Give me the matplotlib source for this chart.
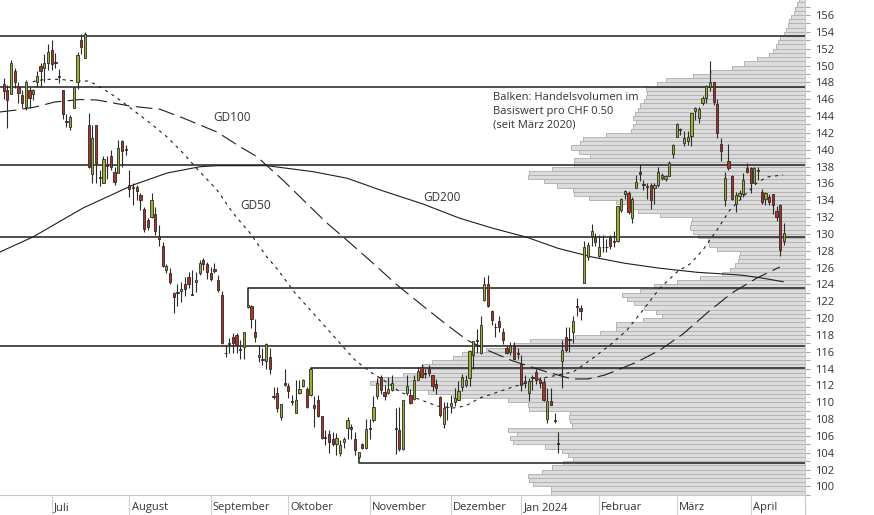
import numpy as np
import matplotlib.pyplot as plt
from matplotlib.lines import Line2D

plt.rcParams['font.family'] = ['Open Sans', 'DejaVu Sans']
plt.rcParams['lines.scale_dashes'] = False

# --- daily candles (trading-day index 0 = mid June 2023) ---
open_ = [147.8, 147.1, 146.6, 149.4, 147.4, 146.5, 145.1, 147.1, 146.6, 148.0,
         149.9, 149.7, 150.3, 151.9, 150.4, 148.7, 147.1, 143.4, 142.7, 145.0,
         148.0, 153.0, 150.9, 142.9, 137.1, 142.9, 136.7, 136.1, 138.2, 139.3,
         137.3, 137.2, 141.0, 140.1, 135.8, 135.6, 135.6, 134.6, 133.0, 131.7,
         132.0, 132.4, 129.7, 128.6, 125.7, 125.3, 123.0, 123.1, 123.2, 124.1,
         124.9, 122.9, 124.3, 125.3, 126.9, 126.4, 125.3, 125.8, 124.5, 122.8,
         115.9, 117.0, 117.8, 118.0, 116.3, 116.6, 121.3, 121.4, 118.4, 115.4,
         115.1, 114.9, 115.4, 110.7, 111.1, 108.3, 112.3, 111.9, 110.1, 108.7,
         111.1, 111.9, 111.6, 110.9, 109.7, 110.3, 108.4, 105.9, 106.2, 105.6,
         105.0, 104.0, 105.3, 107.0, 107.1, 105.6, 103.5, 105.1, 104.6, 107.0,
         107.9, 110.7, 113.0, 111.2, 111.1, 111.5, 106.9, 106.7, 104.5, 111.1,
         110.9, 110.4, 112.7, 114.2, 113.5, 113.9, 113.2, 112.2, 110.6, 107.4,
         109.5, 109.6, 110.0, 110.3, 111.8, 112.1, 112.9, 115.6, 117.4, 115.8,
         122.1, 124.0, 120.9, 119.0, 119.7, 118.4, 116.5, 116.0, 116.7, 115.8,
         114.6, 112.5, 111.1, 113.0, 113.6, 112.6, 112.4, 108.0, 110.1, 107.9,
         105.2, 114.9, 117.8, 117.5, 118.4, 121.4, 121.2, 124.2, 127.3, 129.7,
         129.6, 127.4, 128.5, 128.5, 129.6, 129.1, 129.2, 132.8, 134.7, 134.8,
         131.9, 135.5, 137.4, 135.9, 135.7, 135.8, 135.4, 135.8, 136.6, 136.5,
         136.9, 139.5, 141.5, 142.3, 140.8, 141.0, 141.6, 144.6, 143.8, 145.6,
         146.2, 147.4, 148.0, 145.4, 140.7, 134.0, 138.7, 136.9, 133.6, 134.5,
         134.7, 137.8, 137.8, 136.1, 137.6, 135.0, 134.2, 134.4, 134.7, 132.7,
         133.4, 129.2]
high = [148.5, 147.7, 150.7, 149.7, 148.1, 147.1, 148.3, 147.4, 147.2, 149.3,
        150.3, 151.4, 152.6, 153.0, 151.5, 149.6, 147.1, 144.2, 144.1, 147.4,
        151.6, 153.8, 154.0, 144.4, 142.9, 142.9, 137.6, 139.2, 139.2, 140.0,
        138.0, 141.2, 141.2, 140.5, 137.6, 136.0, 135.8, 134.8, 133.2, 131.9,
        134.8, 133.2, 131.0, 129.0, 126.4, 125.9, 123.1, 124.1, 124.3, 124.9,
        125.5, 125.7, 125.5, 126.9, 127.1, 126.7, 126.1, 126.5, 125.1, 123.2,
        116.8, 117.6, 118.2, 118.2, 117.4, 118.3, 121.6, 121.6, 119.9, 116.8,
        116.4, 117.0, 116.4, 111.8, 111.8, 109.8, 114.0, 112.3, 110.9, 112.6,
        112.6, 112.8, 111.8, 114.0, 110.7, 110.9, 108.4, 106.7, 106.7, 106.5,
        106.3, 105.5, 105.9, 108.3, 107.4, 106.5, 104.1, 105.2, 108.0, 108.0,
        110.7, 112.9, 113.3, 112.1, 113.0, 113.2, 109.3, 109.4, 110.3, 113.2,
        111.6, 113.3, 114.2, 114.6, 114.0, 114.4, 113.2, 112.8, 110.7, 110.0,
        110.0, 110.9, 111.7, 112.5, 113.4, 113.2, 116.2, 117.3, 118.7, 120.2,
        124.9, 125.1, 121.0, 119.4, 120.2, 118.8, 116.8, 117.2, 117.2, 116.5,
        115.6, 113.2, 112.9, 113.3, 114.0, 113.0, 112.9, 111.7, 111.7, 108.7,
        106.5, 117.4, 118.9, 118.9, 120.2, 122.4, 121.5, 129.2, 129.0, 131.2,
        130.1, 129.9, 129.9, 129.4, 129.9, 130.4, 133.3, 134.3, 135.2, 135.1,
        134.4, 137.0, 138.3, 136.4, 136.0, 136.0, 136.0, 138.0, 137.2, 137.0,
        138.6, 140.7, 143.2, 142.6, 142.2, 142.2, 144.4, 145.1, 145.1, 146.4,
        147.7, 150.5, 148.1, 146.0, 141.4, 137.3, 140.7, 137.0, 135.0, 135.2,
        137.2, 138.4, 138.0, 138.0, 138.0, 135.3, 135.0, 134.7, 134.7, 133.3,
        133.5, 131.3]
low = [146.0, 142.6, 146.6, 147.3, 145.5, 144.9, 144.7, 144.9, 145.9, 147.4,
       147.4, 148.0, 149.5, 149.5, 149.7, 147.9, 143.7, 142.7, 142.3, 144.9,
       147.2, 151.4, 150.9, 137.8, 136.0, 136.1, 135.7, 136.0, 136.5, 137.6,
       135.8, 137.2, 138.0, 139.4, 134.4, 133.4, 134.0, 132.8, 130.2, 130.5,
       131.9, 129.9, 128.6, 126.1, 125.3, 124.1, 120.6, 121.4, 121.9, 122.6,
       123.6, 122.7, 123.1, 125.1, 125.7, 124.7, 124.4, 125.3, 123.1, 116.9,
       115.4, 115.9, 115.9, 115.9, 115.2, 115.2, 121.2, 118.8, 117.2, 114.8,
       114.4, 114.0, 113.4, 110.4, 108.9, 107.9, 111.9, 110.5, 109.7, 108.7,
       111.0, 111.8, 109.3, 110.8, 107.1, 108.2, 105.6, 104.9, 104.0, 104.8,
       103.7, 103.6, 104.6, 105.7, 105.7, 103.7, 103.4, 104.4, 104.5, 105.7,
       107.7, 110.4, 111.0, 110.3, 111.0, 111.3, 103.9, 104.2, 104.3, 110.9,
       109.8, 110.3, 112.6, 112.9, 112.9, 113.1, 111.3, 111.0, 108.3, 106.9,
       107.9, 108.7, 109.6, 110.3, 111.4, 111.8, 111.9, 114.0, 115.8, 115.7,
       122.0, 121.3, 119.2, 117.8, 118.4, 116.9, 115.7, 115.6, 115.1, 115.1,
       111.3, 111.7, 110.1, 111.5, 112.2, 111.7, 110.2, 107.5, 109.7, 107.5,
       104.0, 111.7, 116.0, 116.0, 117.0, 120.2, 119.8, 124.2, 126.9, 128.6,
       128.6, 127.3, 127.9, 127.9, 128.2, 128.5, 129.0, 132.6, 134.2, 132.4,
       131.3, 135.4, 136.3, 135.2, 134.1, 133.0, 133.6, 135.6, 136.4, 136.3,
       136.9, 139.0, 141.5, 141.7, 140.4, 140.6, 140.4, 143.5, 143.2, 145.3,
       145.5, 147.0, 145.3, 141.4, 138.7, 133.3, 137.6, 134.0, 132.6, 134.1,
       134.4, 137.2, 134.9, 136.0, 136.4, 133.6, 133.4, 133.4, 132.4, 131.5,
       127.4, 128.7]
close = [147.0, 145.9, 150.3, 148.0, 146.7, 145.6, 148.0, 146.1, 147.1, 148.8,
         149.4, 150.3, 151.6, 150.2, 150.3, 148.6, 144.2, 143.3, 143.9, 147.4,
         151.2, 152.2, 153.8, 138.0, 141.4, 138.4, 136.6, 138.9, 138.1, 138.0,
         136.2, 140.2, 139.9, 140.0, 135.3, 135.5, 135.1, 134.0, 130.6, 130.8,
         134.0, 130.3, 129.4, 126.2, 126.2, 124.3, 122.5, 123.0, 123.4, 123.4,
         124.1, 122.8, 124.5, 126.5, 126.4, 125.5, 124.6, 125.6, 123.3, 117.0,
         115.8, 116.9, 117.0, 116.8, 116.2, 118.3, 121.5, 119.9, 117.7, 115.6,
         115.0, 116.9, 114.0, 110.6, 109.3, 109.8, 112.0, 111.3, 110.0, 110.3,
         111.6, 112.6, 109.4, 113.9, 109.3, 108.4, 105.8, 105.8, 105.3, 105.0,
         105.8, 104.9, 105.6, 107.9, 106.8, 104.3, 104.1, 104.6, 106.8, 106.8,
         109.4, 112.3, 111.5, 110.7, 111.6, 112.3, 106.8, 104.5, 110.3, 111.9,
         109.9, 112.6, 113.7, 113.0, 113.4, 113.5, 111.9, 111.7, 108.5, 109.3,
         109.4, 109.9, 110.5, 111.3, 113.0, 112.7, 116.1, 117.3, 117.3, 119.2,
         124.1, 121.4, 119.8, 118.9, 119.0, 117.4, 115.9, 116.7, 115.2, 115.7,
         112.0, 112.3, 112.5, 112.9, 112.6, 112.3, 110.3, 110.1, 109.7, 107.8,
         105.1, 116.2, 116.2, 117.4, 119.6, 121.3, 120.9, 128.4, 128.7, 130.4,
         129.0, 128.5, 128.4, 128.4, 128.6, 129.0, 133.3, 134.1, 135.1, 132.6,
         134.1, 136.2, 137.1, 135.8, 135.6, 134.0, 135.8, 137.4, 137.0, 136.9,
         138.4, 140.6, 143.0, 142.3, 141.4, 141.5, 144.3, 144.9, 144.8, 146.1,
         147.6, 148.1, 145.7, 142.0, 139.8, 136.6, 137.8, 134.2, 134.6, 134.8,
         136.4, 137.4, 136.1, 137.8, 137.5, 133.8, 134.9, 133.8, 133.4, 132.0,
         128.1, 130.1]

# --- moving averages (index, price) ---
gd50_x = [7.9, 11.2, 15.2, 19.3, 22.8, 24.7, 27.4, 30.7, 35.0, 39.6, 44.2, 48.5,
          53.1, 57.7, 62.0, 66.6, 71.2, 74.2, 78.8, 86.1, 95.0, 99.6, 103.9, 107.2,
          110.7, 117.2, 121.5, 124.8, 128.8, 137.7, 145.9, 154.0, 159.4, 164.0,
          168.6, 172.9, 177.5, 182.1, 185.6, 189.1, 192.9, 196.4, 199.9, 203.7,
          206.4, 210.8]
gd50_y = [148.08, 148.36, 148.36, 148.16, 148.16, 147.80, 147.09, 146.14, 144.72,
          143.17, 141.51, 139.61, 137.35, 135.22, 132.48, 130.11, 127.26, 125.71,
          122.98, 119.42, 115.02, 113.48, 112.30, 111.22, 110.63, 109.56, 109.32,
          109.56, 110.51, 111.82, 112.89, 113.60, 115.26, 116.81, 118.59, 120.96,
          123.58, 125.48, 126.43, 128.09, 130.47, 132.84, 134.38, 136.05, 136.76,
          137.00]
gd100_x = [-1, 3.6, 8.5, 13.9, 20.7, 25.3, 29.6, 34.2, 42.3, 48.5, 57.7, 63.9,
           68.5, 75.5, 81.0, 87.4, 93.7, 98.3, 106.4, 113.4, 119.9, 125.3, 130.7,
           137.7, 146.9, 153.7, 158.0, 162.6, 166.7, 171.3, 177.5, 183.7, 190.5,
           196.9, 203.7, 209.9]
gd100_y = [144.48, 144.72, 145.07, 145.67, 145.96, 145.90, 145.55, 145.19, 144.80,
           143.77, 142.10, 140.36, 139.17, 136.40, 134.03, 131.30, 128.92, 127.14,
           123.93, 121.44, 119.18, 117.40, 116.21, 114.91, 113.60, 112.77, 112.77,
           113.24, 113.96, 114.79, 116.21, 118.11, 120.72, 122.98, 124.76, 126.07]
gd200_x = [-1, 7.9, 21.5, 35.0, 44.2, 53.1, 57.7, 71.2, 80.2, 83.7, 92.9, 101.8,
           113.4, 123.4, 132.3, 141.5, 149.9, 159.1, 168.0, 177.5, 187.5, 199.1,
           204.5, 210.8]
gd200_y = [127.85, 129.63, 133.08, 135.81, 137.23, 137.98, 138.10, 138.10, 137.59,
           137.39, 136.61, 135.22, 133.55, 131.85, 130.67, 129.60, 128.29, 127.26,
           126.51, 125.92, 125.44, 125.12, 124.80, 124.32]

# --- support / resistance lines ---
full_levels = [153.5, 147.4, 138.2, 129.6, 116.7]
partial_start = [66, 83, 96]
partial_levels = [123.58, 114.05, 102.75]

# --- volume profile, CHF 0.50 bins from 99.0 upwards ---
profile_volume = [254, 254, 272, 276, 277, 263, 253, 242, 232, 237,
                  243, 260, 292, 295, 288, 297, 233, 235, 236, 235,
                  276, 277, 297, 352, 377, 412, 435, 428, 402, 382,
                  382, 373, 352, 343, 319, 292, 275, 230, 205, 189,
                  189, 162, 143, 149, 161, 171, 178, 183, 165, 151,
                  128, 105, 83, 75, 70, 67, 66, 65, 88, 96,
                  97, 107, 112, 115, 114, 113, 145, 167, 178, 189,
                  216, 231, 232, 248, 261, 277, 276, 253, 231, 231,
                  215, 226, 234, 225, 222, 199, 174, 172, 169, 172,
                  170, 167, 165, 161, 159, 158, 159, 148, 139, 112,
                  94, 73, 61, 48, 36, 32, 29, 27, 25, 21,
                  19, 17, 16, 14, 11, 10, 8, 6]
profile_low = 99.0

month_labels = ['Juli', 'August', 'September', 'Oktober', 'November',
                'Dezember', 'Jan 2024', 'Februar', 'März', 'April']
month_starts = [13, 34, 56, 77, 99, 121, 140, 161, 182, 202]

fig = plt.figure(figsize=(8.74, 5.15), dpi=100)
rect = [0, 20 / 515, 805 / 874, 495 / 515]
axv = fig.add_axes(rect, zorder=0)
ax = fig.add_axes(rect, zorder=1)
ax.patch.set_visible(False)

ylo, yhi = 98.99, 157.78
xlo, xhi = -0.98, 216.7

# volume profile bars hang from the right edge
levels = profile_low + 0.5 * np.arange(len(profile_volume))
axv.barh(levels + 0.25, profile_volume, height=0.5, left=0,
         color='#dcdcdc', edgecolor='#b4b4b4', linewidth=0.7)
axv.set_xlim(805, 0)
axv.set_ylim(ylo, yhi)
axv.axis('off')

# horizontal lines
for lv in full_levels:
    ax.axhline(lv, color='#1e1e1e', lw=1.1, zorder=2)
for s, lv in zip(partial_start, partial_levels):
    anchor = high[s] if lv > high[s] else low[s]
    ax.plot([s, s, xhi], [anchor, lv, lv], color='#1e1e1e', lw=1.1, zorder=2)

# moving averages
ax.plot(gd200_x, gd200_y, color='#1e1e1e', lw=0.8, zorder=3)
ax.plot(gd100_x, gd100_y, color='#1e1e1e', lw=0.8, dashes=(12, 4.5), zorder=3)
ax.plot(gd50_x, gd50_y, color='#1e1e1e', lw=0.8, dashes=(2.2, 3.2), zorder=3)

# candles
o = np.array(open_)
c = np.array(close)
idx = np.arange(len(c))
cols = np.where(c >= o, '#9cb12b', '#b5301f')
ax.vlines(idx, low, high, color='#2a2a2a', lw=0.8, zorder=4)
body = np.maximum(np.abs(c - o), 0.1)
ax.bar(idx, body, bottom=np.minimum(o, c), width=0.6, color=cols,
       edgecolor='#2a2a2a', linewidth=0.6, zorder=5)

# labels
txt = dict(fontsize=8.5, color='#333333', va='center', ha='left')
ax.text(56.6, 143.77, 'GD100', **txt)
ax.text(64.0, 133.43, 'GD50', **txt)
ax.text(113.4, 134.38, 'GD200', **txt)
ax.text(132.3, 146.8, 'Balken: Handelsvolumen im\nBasiswert pro CHF 0.50\n(seit März 2020)',
        fontsize=8, color='#333333', va='top', ha='left', linespacing=1.3)

ax.set_xlim(xlo, xhi)
ax.set_ylim(ylo, yhi)

ax.yaxis.tick_right()
ax.set_yticks(np.arange(100, 157, 2))
ax.set_yticks(np.arange(99, 158, 2), minor=True)
ax.tick_params(axis='y', which='both', length=3.5, width=0.8, color='#a8a8a8',
               labelsize=8, labelcolor='#333333', pad=4)
ax.set_xticks(month_starts)
ax.set_xticklabels([])
ax.tick_params(axis='x', length=14.4, width=0.8, color='#cfcfcf', direction='out')
for m, lab in zip(month_starts, month_labels):
    ax.text(m + 0.6, -0.0253, lab, transform=ax.get_xaxis_transform(),
            fontsize=8, color='#333333', va='center', ha='left')

for side in ['top', 'left']:
    ax.spines[side].set_visible(False)
for side in ['right', 'bottom']:
    ax.spines[side].set_color('#c8c8c8')
    ax.spines[side].set_linewidth(0.8)
ax.add_line(Line2D([1, 1], [0, -20 / 495], transform=ax.transAxes,
                   color='#c8c8c8', lw=0.8, clip_on=False))

fig.savefig('out.png', dpi=100)
